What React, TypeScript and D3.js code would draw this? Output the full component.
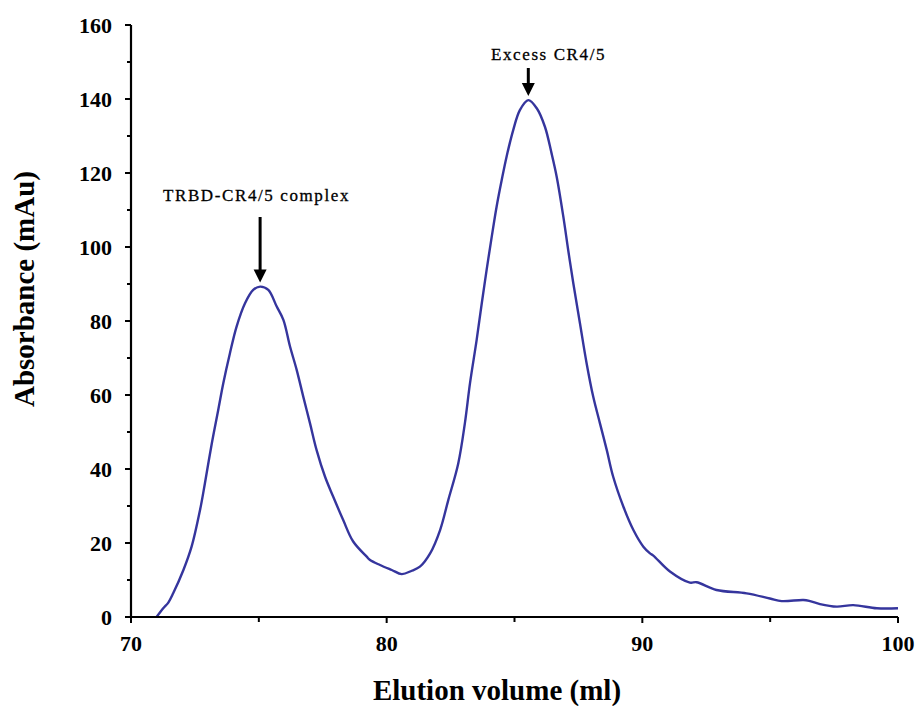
import React from 'react';
import * as d3 from 'd3';

// Elution volume (ml) and absorbance (mAu)
const VOLUME = [
  71.0, 71.26, 71.46, 71.65, 72.05, 72.37, 72.7, 72.89, 73.16, 73.41, 73.61, 73.87,
  74.13, 74.46, 74.78, 75.05, 75.37, 75.7, 75.96, 76.22, 76.48, 76.74, 77.0, 77.26, 77.59,
  77.91, 78.3, 78.69, 79.22, 79.35, 79.74, 80.2, 80.59, 80.98, 81.3, 81.7, 82.09, 82.41,
  82.8, 83.06, 83.26, 83.52, 83.72, 83.91, 84.11, 84.3, 84.5, 84.69, 84.95, 85.21, 85.54,
  85.87, 86.19, 86.45, 86.65, 86.91, 87.1, 87.3, 87.56, 87.82, 88.08, 88.34, 88.61, 88.86,
  89.26, 89.65, 90.04, 90.3, 90.43, 91.08, 91.86, 92.12, 92.9, 94.08, 94.99, 95.45, 96.3,
  96.56, 96.95, 97.6, 98.25, 99.17, 100.0
];
const ABSORBANCE = [
  0, 2.35, 3.9, 6.4, 12.7, 19.0, 28.9, 36.1, 46.9, 55.9, 63.2, 71.3,
  78.5, 84.8, 88.4, 89.3, 88.4, 83.9, 80.3, 73.1, 66.8, 59.5, 52.4, 45.1, 37.9,
  32.5, 26.2, 20.4, 16.3, 15.4, 14.05, 12.7, 11.6, 12.5, 13.6, 17.2, 23.5, 31.6,
  41.5, 52.4, 63.2, 74.9, 84.8, 93.8, 102.8, 110.9, 118.1, 124.4, 131.6, 137.0, 139.7,
  137.5, 132.5, 125.3, 119.0, 108.2, 99.2, 90.2, 79.4, 68.6, 59.5, 52.4, 45.1, 37.9,
  29.8, 23.5, 19.0, 17.2, 16.6, 12.3, 9.3, 9.4, 7.3, 6.4, 5.0, 4.3, 4.6,
  4.3, 3.5, 2.8, 3.2, 2.35, 2.35
];

const X_TICKS = [70, 80, 90, 100];
const X_MINOR = [75, 85, 95];
const Y_TICKS = [0, 20, 40, 60, 80, 100, 120, 140, 160];
const Y_MINOR = [10, 30, 50, 70, 90, 110, 130, 150];

const PEAK_LABELS = ['TRBD-CR4/5 complex', 'Excess CR4/5'];

const SERIF = '"Liberation Serif", "Times New Roman", serif';

export default function App() {
  const width = 918;
  const height = 706;
  const x = d3.scaleLinear().domain([70, 100]).range([131, 898]);
  const y = d3.scaleLinear().domain([0, 160]).range([617, 25]);

  const points = VOLUME.map((v, i) => [v, ABSORBANCE[i]] as [number, number]);
  const line = d3.line<[number, number]>()
    .x(d => x(d[0]))
    .y(d => y(d[1]))
    .curve(d3.curveCatmullRom.alpha(0.5));

  // the two peaks: first one before the valley, second one after
  const first = points.filter(p => p[0] < 80).reduce((a, b) => (b[1] > a[1] ? b : a));
  const second = points.filter(p => p[0] > 80).reduce((a, b) => (b[1] > a[1] ? b : a));

  const arrows = [
    { peak: first, top: 217, label: PEAK_LABELS[0], lx: 163, ly: 201 },
    { peak: second, top: 68, label: PEAK_LABELS[1], lx: 491, ly: 60 }
  ];

  return (
    <svg width={width} height={height} style={{ position: 'absolute', left: 0, top: 0, background: '#fff' }}>
      {/* data */}
      <path d={line(points) || ''} fill='none' stroke='#35359d' strokeWidth={2.4} strokeLinejoin='round' />

      {/* axes */}
      <line x1={x(70)} x2={x(70)} y1={y(160)} y2={y(0)} stroke='#000' strokeWidth={2.2} />
      <line x1={x(70)} x2={x(100)} y1={y(0)} y2={y(0)} stroke='#000' strokeWidth={2.2} />
      {Y_TICKS.map(t => (
        <g key={'y' + t}>
          <line x1={x(70) - 6} x2={x(70)} y1={y(t)} y2={y(t)} stroke='#000' strokeWidth={2} />
          <text x={112} y={y(t)} dy='0.35em' textAnchor='end' fontFamily={SERIF} fontWeight='bold' fontSize={22}>
            {t}
          </text>
        </g>
      ))}
      {Y_MINOR.map(t => (
        <line key={'ym' + t} x1={x(70) - 4} x2={x(70)} y1={y(t)} y2={y(t)} stroke='#000' strokeWidth={2} />
      ))}
      {X_TICKS.map(t => (
        <g key={'x' + t}>
          <line x1={x(t)} x2={x(t)} y1={y(0)} y2={y(0) + 6} stroke='#000' strokeWidth={2} />
          <text x={x(t)} y={651} textAnchor='middle' fontFamily={SERIF} fontWeight='bold' fontSize={22}>
            {t}
          </text>
        </g>
      ))}
      {X_MINOR.map(t => (
        <line key={'xm' + t} x1={x(t)} x2={x(t)} y1={y(0)} y2={y(0) + 5} stroke='#000' strokeWidth={2} />
      ))}

      {/* axis titles */}
      <text x={497} y={700} textAnchor='middle' fontFamily={SERIF} fontWeight='bold' fontSize={29}>
        Elution volume (ml)
      </text>
      <text transform='translate(34,289) rotate(-90)' textAnchor='middle' fontFamily={SERIF} fontWeight='bold' fontSize={29}>
        Absorbance (mAu)
      </text>

      {/* peak annotations */}
      {arrows.map(a => {
        const px = x(a.peak[0]);
        const tip = y(a.peak[1]) - 4;
        return (
          <g key={a.label}>
            <line x1={px} x2={px} y1={a.top} y2={tip - 10} stroke='#000' strokeWidth={3} />
            <path d={`M${px - 6.5},${tip - 13} L${px + 6.5},${tip - 13} L${px},${tip} Z`} fill='#000' />
            <text x={a.lx} y={a.ly} fontFamily={SERIF} fontSize={17} letterSpacing={1.6} stroke='#000' strokeWidth={0.3}>
              {a.label}
            </text>
          </g>
        );
      })}
    </svg>
  );
}
